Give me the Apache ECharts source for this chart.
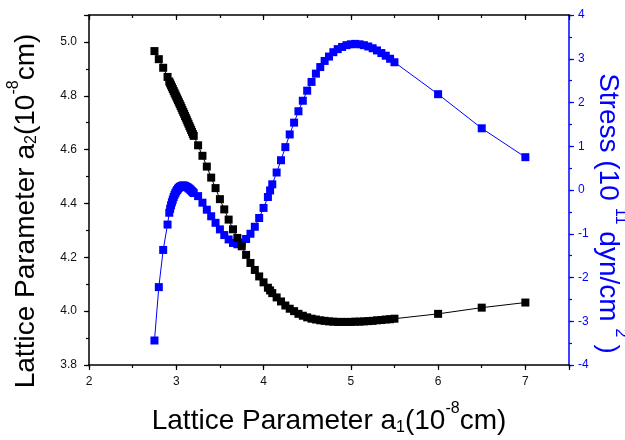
<!DOCTYPE html>
<html><head><meta charset="utf-8">
<script src="https://cdn.jsdelivr.net/npm/echarts@6/dist/echarts.min.js"></script>
<style>html,body{margin:0;padding:0;background:#fff}#c{width:625px;height:440px}</style>
</head><body><div id="c"></div>
<script>
var a1 = [2.75,2.80,2.85,2.90,
  2.92,2.93,2.94,2.95,2.96,2.97,2.98,2.99,3.00,3.01,3.02,3.03,3.04,3.05,3.06,3.07,3.08,3.09,3.10,3.11,3.12,3.13,3.14,3.15,3.16,3.17,3.18,3.19,3.20,
  3.25,3.30,3.35,3.40,3.45,3.50,3.55,3.60,3.65,3.70,3.75,3.80,3.85,3.90,3.95,4.00,4.05,4.075,4.10,4.15,4.20,4.25,4.30,4.35,4.40,4.45,4.50,4.55,4.60,4.65,4.70,4.75,4.80,4.85,4.90,4.95,5.00,5.05,5.10,5.15,5.20,5.25,5.30,5.35,5.40,5.45,5.50,
  6.0,6.5,7.0];
var a2 = [4.966,4.936,4.904,4.870,
  4.853,4.846,4.839,4.832,4.825,4.818,4.811,4.804,4.797,4.790,4.783,4.776,4.769,4.762,4.755,4.747,4.740,4.733,4.725,4.718,4.711,4.703,4.696,4.688,4.681,4.673,4.666,4.658,4.651,
  4.616,4.577,4.537,4.496,4.457,4.416,4.378,4.340,4.304,4.272,4.241,4.209,4.179,4.153,4.129,4.107,4.087,4.077,4.067,4.051,4.036,4.021,4.009,4.000,3.990,3.983,3.977,3.972,3.969,3.966,3.964,3.962,3.961,3.960,3.960,3.960,3.960,3.961,3.961,3.962,3.963,3.964,3.966,3.967,3.969,3.970,3.972,
  3.990,4.013,4.032];
var stress = [-3.44,-2.22,-1.37,-0.79,
  -0.52,-0.43,-0.35,-0.28,-0.22,-0.16,-0.11,-0.07,-0.03,0.00,0.03,0.05,0.07,0.08,0.09,0.10,0.10,0.10,0.09,0.08,0.07,0.06,0.04,0.03,0.01,-0.01,-0.03,-0.05,-0.07,
  -0.14,-0.29,-0.45,-0.60,-0.75,-0.90,-1.03,-1.13,-1.21,-1.24,-1.20,-1.12,-1.00,-0.84,-0.64,-0.41,-0.16,-0.01,0.13,0.40,0.68,0.98,1.27,1.54,1.80,2.04,2.27,2.47,2.66,2.81,2.95,3.05,3.15,3.22,3.27,3.31,3.33,3.34,3.33,3.31,3.28,3.24,3.19,3.13,3.07,3.00,2.92,
  2.19,1.41,0.75];
var xTicks = [2,3,4,5,6,7];
var leftTicks = [3.8,4.0,4.2,4.4,4.6,4.8,5.0];
var rightTicks = [-4,-3,-2,-1,0,1,2,3,4];

var FONT = 'Liberation Sans, Arial, sans-serif';
var BLUE = '#0000ff';
function pairs(xs, ys){ return xs.map(function(x,i){ return [x, ys[i]]; }); }
function inList(list, v){ return list.some(function(t){ return Math.abs(t - v) < 1e-6; }); }
function richName(color, supPadX){
  return {
    a: {fontSize: 28, lineHeight: 34.6, verticalAlign: 'bottom', color: color, fontFamily: FONT},
    sub: {fontSize: 16, lineHeight: 10, verticalAlign: 'bottom', color: color, fontFamily: FONT},
    sup: {fontSize: 16, lineHeight: 12, verticalAlign: 'top', padding: [0, supPadX, 28, supPadX], color: color, fontFamily: FONT}
  };
}
var xMin = 2, xMax = 7.5, lMin = 3.8, lMax = 5.1, rMin = -4, rMax = 4;
function minorAxis(base, interval, len, inside, color){
  return Object.assign({}, base, {
    type: 'value', interval: interval, axisLine: {show: false, onZero: false},
    axisTick: {show: true, inside: inside, length: len, lineStyle: {color: color, width: 1.2}},
    axisLabel: {show: false}, splitLine: {show: false}
  });
}
var chart = echarts.init(document.getElementById('c'), null, {renderer: 'canvas'});
chart.setOption({
  animation: false,
  backgroundColor: '#fff',
  grid: {left: 89, right: 56, top: 15, bottom: 75, containLabel: false, outerBoundsMode: 'none'},
  xAxis: [
    {type: 'value', position: 'bottom', min: xMin, max: xMax, interval: 1,
     axisLine: {show: true, onZero: false, lineStyle: {color: '#000', width: 1.5}},
     axisTick: {show: true, length: 5, lineStyle: {color: '#000', width: 1.2}},
     axisLabel: {margin: 11, fontSize: 12, color: '#111', fontFamily: FONT,
       formatter: function(v){ return inList(xTicks, v) ? String(v) : ''; }},
     splitLine: {show: false},
     name: '{a|Lattice Parameter a}{sub|1}{a|(10}{sup|-8}{a|cm)}',
     nameLocation: 'middle', nameGap: 36, nameMoveOverlap: false,
     nameTextStyle: {rich: richName('#000', 0)}},
    minorAxis({position: 'bottom', min: xMin, max: xMax}, 0.5, 3, false, '#000'),
    {type: 'value', position: 'top', min: xMin, max: xMax, interval: 1,
     axisLine: {show: true, onZero: false, lineStyle: {color: '#000', width: 1.5}},
     axisTick: {show: true, inside: true, length: 5, lineStyle: {color: '#000', width: 1.2}},
     axisLabel: {show: false}, splitLine: {show: false}},
    minorAxis({position: 'top', min: xMin, max: xMax}, 0.5, 3, true, '#000')
  ],
  yAxis: [
    {type: 'value', position: 'left', min: lMin, max: lMax, interval: 0.2,
     axisLine: {show: true, onZero: false, lineStyle: {color: '#000', width: 1.5}},
     axisTick: {show: true, length: 5, lineStyle: {color: '#000', width: 1.2}},
     axisLabel: {margin: 12, fontSize: 12, color: '#111', fontFamily: FONT,
       formatter: function(v){ return inList(leftTicks, v) ? v.toFixed(1) : ''; }},
     splitLine: {show: false},
     name: '{a|Lattice Parameter a}{sub|2}{a|(10}{sup|-8}{a|cm)}',
     nameLocation: 'middle', nameGap: 49, nameMoveOverlap: false,
     nameTextStyle: {padding: [0, 42, 0, 0], rich: richName('#000', 0)}},
    minorAxis({position: 'left', min: lMin, max: lMax}, 0.1, 3, false, '#000'),
    {type: 'value', position: 'right', min: rMin, max: rMax, interval: 1,
     axisLine: {show: true, onZero: false, lineStyle: {color: BLUE, width: 1.5}},
     axisTick: {show: true, length: 5, lineStyle: {color: BLUE, width: 1.2}},
     axisLabel: {margin: 9, fontSize: 12, color: BLUE, fontFamily: FONT,
       formatter: function(v){ return inList(rightTicks, v) ? String(v) : ''; }},
     splitLine: {show: false},
     name: '{a|Stress (10}{sup|11}{a|dyn/cm}{sup|2}{a|)}',
     nameLocation: 'middle', nameGap: 25, nameRotate: -90, nameMoveOverlap: false,
     nameTextStyle: {padding: [0, 0, 0, 47], rich: richName(BLUE, 7)}},
    minorAxis({position: 'right', min: rMin, max: rMax}, 0.5, 3, false, BLUE)
  ],
  series: [
    {type: 'line', name: 'Stress', xAxisIndex: 0, yAxisIndex: 2, data: pairs(a1, stress),
     symbol: 'rect', symbolSize: 8, showSymbol: true,
     itemStyle: {color: BLUE}, lineStyle: {color: BLUE, width: 1}},
    {type: 'line', name: 'a2', xAxisIndex: 0, yAxisIndex: 0, data: pairs(a1, a2),
     symbol: 'rect', symbolSize: 8, showSymbol: true,
     itemStyle: {color: '#000'}, lineStyle: {color: '#000', width: 1}}
  ]
});
</script></body></html>
